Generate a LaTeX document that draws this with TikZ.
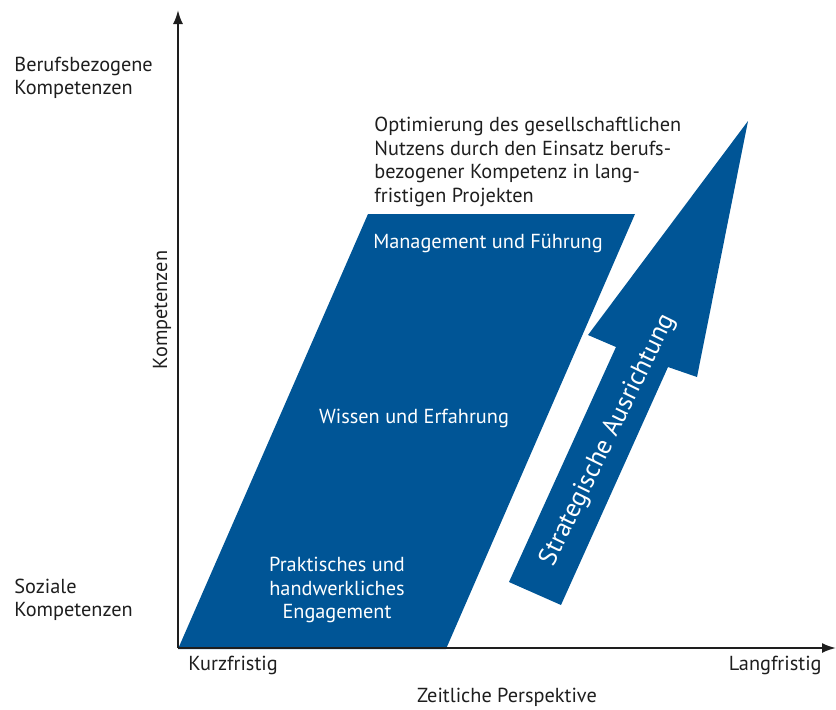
\documentclass[tikz,border=0pt]{standalone}
\usepackage{fontspec}
\setmainfont{PT Sans}
\usetikzlibrary{arrows.meta}
\definecolor{zielblau}{RGB}{0,85,150}
\definecolor{textgrau}{RGB}{30,30,30}
\tikzset{
  achse/.style={line width=1pt, draw=textgrau, -{Latex[length=7pt,width=5pt]}},
  flaeche/.style={fill=zielblau, draw=none},
  etikett/.style={text=textgrau, font=\fontsize{10.15}{11.7}\selectfont, inner sep=0pt},
  innen/.style={text=white, font=\fontsize{10.15}{11.7}\selectfont, inner sep=0pt, align=center}
}

\begin{document}
\begin{tikzpicture}[x=0.5pt, y=-0.5pt]
  \useasboundingbox (0,0) rectangle (836,709);
  % Achsen
  \coordinate (O) at (178,648);
  \coordinate (ykopf) at (178,10);
  \coordinate (xkopf) at (836,648);
  % Parallelogramm der Kompetenzen
  \coordinate (pa) at (178,649);
  \coordinate (pb) at (446,649);
  \coordinate (pc) at (635,214);
  \coordinate (pd) at (368,214);
  \path[flaeche] (pa) -- (pb) -- (pc) -- (pd) -- cycle;
  % Pfeil der strategischen Ausrichtung
  \coordinate (spitze) at (748,121);
  \coordinate (rechtsaussen) at (697,377);
  \coordinate (rechtsinnen) at (668,367);
  \coordinate (fussrechts) at (561,605);
  \coordinate (fusslinks) at (509,582);
  \coordinate (linksinnen) at (616,347);
  \coordinate (linksaussen) at (588,335);
  \path[flaeche] (spitze) -- (rechtsaussen) -- (rechtsinnen) -- (fussrechts)
    -- (fusslinks) -- (linksinnen) -- (linksaussen) -- cycle;
  \draw[achse] (O) -- (ykopf);
  \draw[achse] (O) -- (xkopf);

  \node[etikett, anchor=west, align=left] (beruf) at (14,78) {Berufsbezogene\\Kompetenzen};
  \node[etikett, anchor=west, align=left] (sozial) at (14,600) {Soziale\\Kompetenzen};
  \node[etikett, rotate=90] (kompetenzen) at (162,310) {Kompetenzen};
  \node[etikett, anchor=west] (kurz) at (188,665) {Kurzfristig};
  \node[etikett, anchor=east] (lang) at (822,665) {Langfristig};
  \node[etikett] (zeit) at (507,697) {Zeitliche Perspektive};
  \node[etikett, anchor=west, align=left] (nutzen) at (374,162)
    {Optimierung des gesellschaftlichen\\Nutzens durch den Einsatz berufs-\\bezogener Kompetenz in lang-\\fristigen Projekten};
  \node[innen] (management) at (488,243) {Management und Führung};
  \node[innen] (wissen) at (414,418) {Wissen und Erfahrung};
  \node[innen] (praxis) at (337,590) {Praktisches und\\handwerkliches\\Engagement};
  \node[innen, rotate=64, font=\fontsize{13}{15}\selectfont] (strategie) at (608,440) {Strategische Ausrichtung};
\end{tikzpicture}
\end{document}
